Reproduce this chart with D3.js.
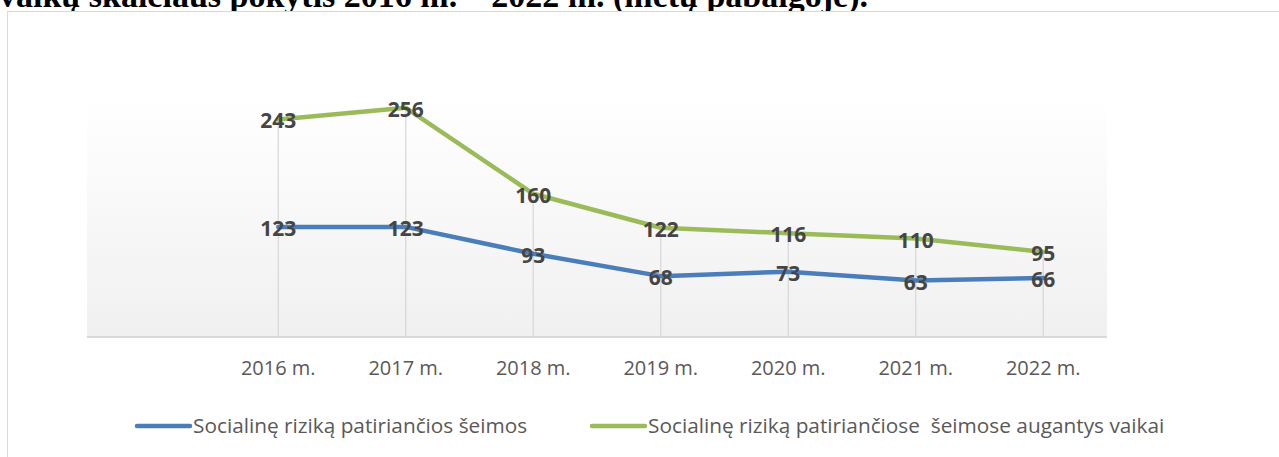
<!DOCTYPE html>
<html>
<head>
    <meta charset="utf-8">
    <title>Socialinę riziką patiriančios šeimos</title>
    <script src="https://d3js.org/d3.v7.min.js"></script>
    <style type="text/css">
        body { margin: 0; background: #fff; }
        svg { display: block; }
    </style>
</head>
<body>
    <script type="text/javascript">
        // data
        let years = ["2016 m.", "2017 m.", "2018 m.", "2019 m.", "2020 m.", "2021 m.", "2022 m."];
        let families = [123, 123, 93, 68, 73, 63, 66];
        let children = [243, 256, 160, 122, 116, 110, 95];
        let seriesNames = ["Socialinę riziką patiriančios šeimos", "Socialinę riziką patiriančiose  šeimose augantys vaikai"];
        let seriesColors = ["#4a7ebb", "#9bbb59"];
        let title = "vaikų skaičiaus pokytis 2016 m. – 2022 m. (metų pabaigoje).";

        let width = 1279, height = 457;
        let plot = {left: 87, right: 1107, top: 98, bottom: 337};

        let svg = d3.select("body").append("svg")
            .attr("width", width)
            .attr("height", height);

        // title of the document, cut by the top edge (as in the scan)
        svg.append("text")
            .attr("x", -1)
            .attr("y", 7)
            .style("font-family", "'Liberation Serif', 'Times New Roman', serif")
            .style("font-weight", "bold")
            .style("font-size", "34px")
            .style("fill", "#000")
            .text(title);

        // chart frame
        svg.append("rect")
            .attr("x", 7.5).attr("y", 11.5)
            .attr("width", 1300).attr("height", 480)
            .style("fill", "#fff")
            .style("stroke", "#d9d9d9");

        let defs = svg.append("defs");
        let grad = defs.append("linearGradient")
            .attr("id", "bg").attr("x1", 0).attr("y1", 0).attr("x2", 0).attr("y2", 1);
        grad.append("stop").attr("offset", "0%").attr("stop-color", "#ffffff");
        grad.append("stop").attr("offset", "100%").attr("stop-color", "#f0f0f0");

        // first slot is an empty category, like in the original sheet
        let x = d3.scaleBand()
            .domain([""].concat(years))
            .range([plot.left, plot.right])
            .padding(0);
        let cx = d => x(d) + x.bandwidth() / 2;

        let y = d3.scaleLinear()
            .domain([0, 267])
            .range([plot.bottom, plot.top]);

        svg.append("rect")
            .attr("x", plot.left).attr("y", y(267))
            .attr("width", plot.right - plot.left)
            .attr("height", y(0) - y(267))
            .style("fill", "url(#bg)");

        // drop lines from the highest point down to the axis
        svg.append("g").selectAll("line")
            .data(years)
            .join("line")
                .attr("x1", d => cx(d)).attr("x2", d => cx(d))
                .attr("y1", (d, i) => y(Math.max(families[i], children[i])))
                .attr("y2", y(0))
                .style("stroke", "#d9d9d9")
                .style("stroke-width", 1.3);

        // x axis
        let xAxis = svg.append("g")
            .attr("transform", "translate(0," + y(0) + ")")
            .call(d3.axisBottom(x).tickSize(0).tickPadding(0).tickValues(years));
        xAxis.select(".domain").style("stroke", "#d9d9d9").style("stroke-width", 2)
            .attr("d", "M" + plot.left + ",0H" + plot.right);
        xAxis.selectAll("text")
            .attr("dy", 0)
            .attr("y", 38)
            .style("font-family", "'Open Sans', sans-serif")
            .style("font-size", "20px")
            .style("fill", "#595959");

        let line = d3.line()
            .x((d, i) => cx(years[i]))
            .y(d => y(d));

        let series = [families, children];
        series.forEach((vals, k) => {
            svg.append("path")
                .datum(vals)
                .attr("d", line)
                .style("fill", "none")
                .style("stroke", seriesColors[k])
                .style("stroke-width", 4.5)
                .style("stroke-linejoin", "round")
                .style("stroke-linecap", "round");
        });

        series.forEach((vals, k) => {
            svg.append("g").selectAll("text")
                .data(vals)
                .join("text")
                    .attr("x", (d, i) => cx(years[i]))
                    .attr("y", d => y(d) + 9)
                    .attr("text-anchor", "middle")
                    .style("font-family", "'Open Sans', sans-serif")
                    .style("font-weight", "bold")
                    .style("font-size", "21px")
                    .style("fill", "#454545")
                    .text(d => d);
        });

        // legend
        let legendX = [137, 592];
        let legend = svg.append("g").selectAll("g")
            .data(seriesNames)
            .join("g")
                .attr("transform", (d, i) => "translate(" + legendX[i] + ",426)");
        legend.append("line")
            .attr("x1", 0).attr("x2", 53)
            .style("stroke", (d, i) => seriesColors[i])
            .style("stroke-width", 4.5)
            .style("stroke-linecap", "round");
        legend.append("text")
            .attr("x", 56)
            .attr("y", 7)
            .style("font-family", "'Open Sans', sans-serif")
            .style("font-size", "20.8px")
            .style("fill", "#595959")
            .style("white-space", "pre")
            .text(d => d);
    </script>
</body>
</html>
